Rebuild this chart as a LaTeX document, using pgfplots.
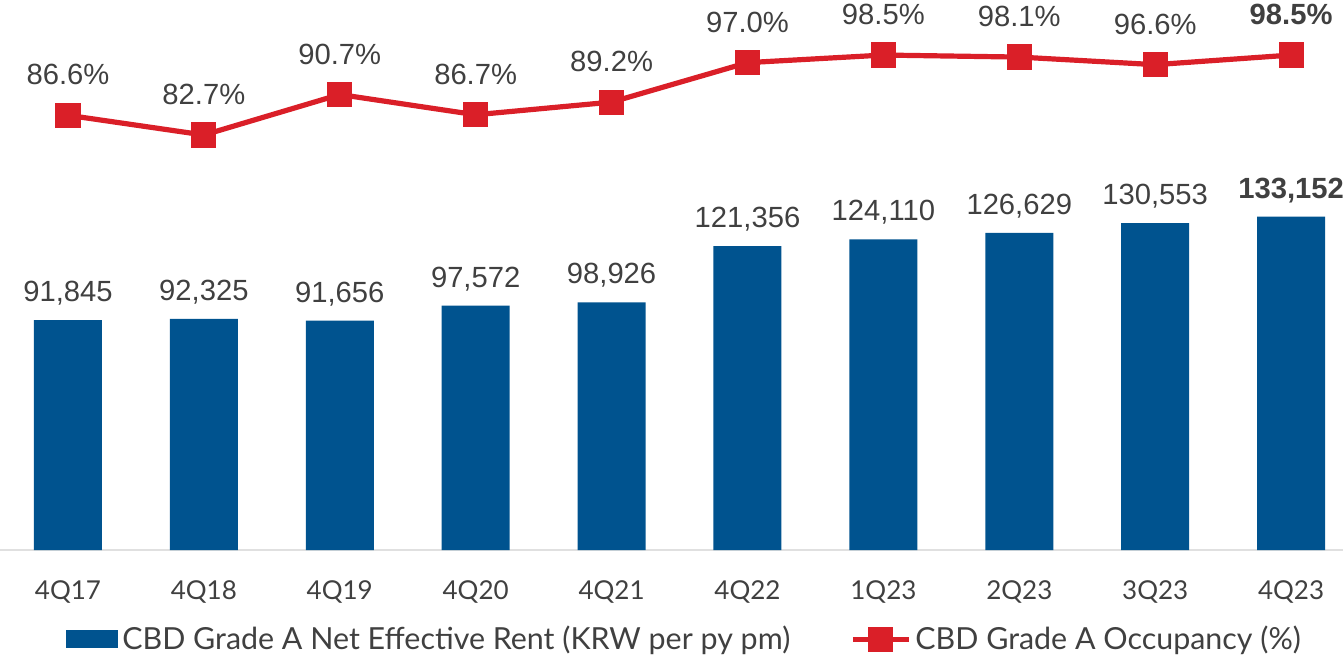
\documentclass[border=0pt]{standalone}
\usepackage{pgfplots}
\pgfplotsset{compat=1.18}
\usepackage{pgfplotstable}
\usepackage{fontspec}
\setmainfont{Lato}
\newfontfamily\lab{Liberation Sans}
\definecolor{barblue}{RGB}{0,83,143}
\definecolor{linered}{RGB}{218,31,40}
\definecolor{txt}{RGB}{64,64,64}

\pgfplotstableread{
x rent rlab occ olab
0 91845 {91,845} 86.6 {86.6\%}
1 92325 {92,325} 82.7 {82.7\%}
2 91656 {91,656} 90.7 {90.7\%}
3 97572 {97,572} 86.7 {86.7\%}
4 98926 {98,926} 89.2 {89.2\%}
5 121356 {121,356} 97.0 {97.0\%}
6 124110 {124,110} 98.5 {98.5\%}
7 126629 {126,629} 98.1 {98.1\%}
8 130553 {130,553} 96.6 {96.6\%}
9 133152 {\textbf{133,152}} 98.5 {\textbf{98.5\%}}
}\data

\pgfplotsset{base/.style={scale only axis, width=671.5pt, height=275pt,
  xmin=-0.5, xmax=9.382, axis line style={draw=none}, major tick length=0pt,
  clip=false},
  lineleg/.style={legend image code/.code={\draw[mark repeat=2, mark phase=2, ##1] plot coordinates {(0pt,0pt) (14pt,0pt) (28pt,0pt)};}},
  barleg/.style={legend image code/.code={\fill[barblue] (0pt,-4.5pt) rectangle (26pt,4.5pt);}}}

\begin{document}
\begin{tikzpicture}
\begin{axis}[base, ymin=0, ymax=219700, ybar, bar width=34pt,
  xtick={0,...,9},
  xticklabels={4Q17,4Q18,4Q19,4Q20,4Q21,4Q22,1Q23,2Q23,3Q23,4Q23},
  ytick=\empty,
  xticklabel style={anchor=center, yshift=-21pt, font=\fontsize{13}{15}\selectfont, text=txt},
  nodes near coords, point meta=explicit symbolic,
  every node near coord/.append style={font=\lab\fontsize{14.6}{17}\selectfont, text=txt, anchor=south, inner sep=0pt, text depth=0pt, yshift=9pt}]
\draw[black!12, line width=1pt] (rel axis cs:0,0) -- (rel axis cs:1,0);
\addplot[fill=barblue, draw=none] table[x=x, y=rent, meta=rlab] {\data};
\end{axis}
\begin{axis}[base, ymin=0.68, ymax=109.38, xtick=\empty, ytick=\empty,
  legend style={at={(0.0491,-0.162)}, anchor=west, draw=none, fill=none,
    font=\fontsize{15.2}{18}\selectfont, text=txt, inner sep=0pt,
    /tikz/every even column/.append style={column sep=28pt}},
  legend columns=2, legend cell align=left]
\addlegendimage{fill=barblue, draw=none, barleg}
\addlegendentry{CBD Grade A Net Effective Rent (KRW per py pm)}
\addplot[linered, line width=2.6pt, mark=square*, mark size=5pt,
  mark options={draw=none, fill=linered}, lineleg,
  nodes near coords, point meta=explicit symbolic,
  every node near coord/.append style={font=\lab\fontsize{14.6}{17}\selectfont, text=txt, anchor=south, inner sep=0pt, text depth=0pt, yshift=13.85pt}]
  table[x=x, y=occ, meta=olab] {\data};
\addlegendentry{CBD Grade A Occupancy (\%)}
\end{axis}
\pgfresetboundingbox
\useasboundingbox (0pt,-52pt) rectangle (671.5pt,275pt);
\end{tikzpicture}
\end{document}
